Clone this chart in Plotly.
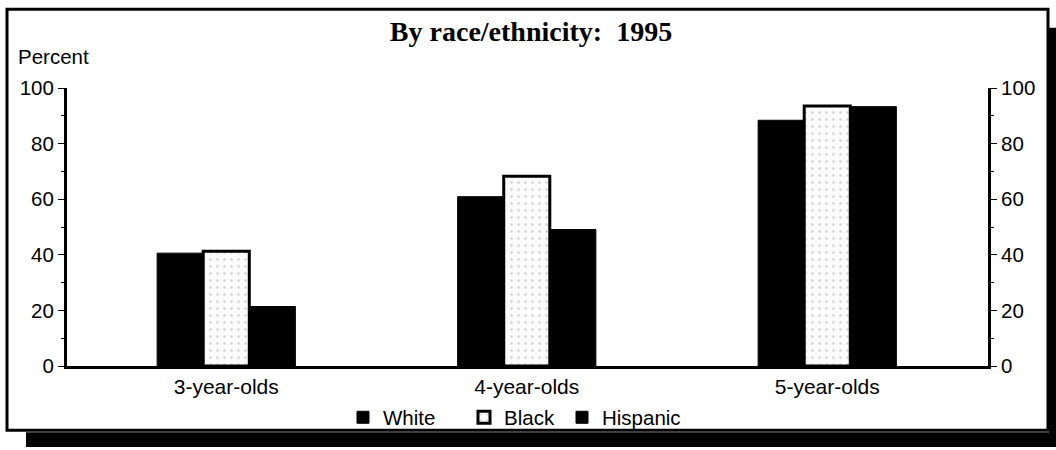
import plotly.graph_objects as go

categories = ["3-year-olds", "4-year-olds", "5-year-olds"]
white = [40.6, 60.9, 88.4]
black = [41.3, 68.3, 93.5]
hispanic = [21.4, 49.1, 93.3]
y_ticks = [0, 20, 40, 60, 80, 100]

W, H = 1056, 450
L, R, T, B = 67, 988, 88, 369  # plot area in pixels


def px(x):
    return (x - L) / (R - L)


def py(y):
    return (B - y) / (B - T)


fig = go.Figure()
fig.add_trace(go.Bar(name="White", x=categories, y=white, legend="legend",
                     marker=dict(color="black", line=dict(color="black", width=1))))
fig.add_trace(go.Bar(name="Black", x=categories, y=black, legend="legend2",
                     marker=dict(color="#fbfbfb", line=dict(color="black", width=3),
                                 pattern=dict(shape=".", fgcolor="#a8a8a8", bgcolor="#fbfbfb",
                                              size=7, solidity=0.1))))
fig.add_trace(go.Bar(name="Hispanic", x=categories, y=hispanic, legend="legend3",
                     marker=dict(color="black", line=dict(color="black", width=1))))
# invisible trace to drive the right axis
fig.add_trace(go.Scatter(x=categories, y=[None] * 3, yaxis="y2", showlegend=False,
                         hoverinfo="skip"))

font = "Arial, Liberation Sans, sans-serif"
axis_common = dict(range=[0, 100], tickvals=y_ticks, ticks="outside", ticklen=6,
                   tickwidth=1, tickcolor="black", showline=True, linecolor="black",
                   linewidth=3, showgrid=False, zeroline=False,
                   tickfont=dict(family=font, size=20.5, color="black"),
                   minor=dict(ticks="outside", ticklen=3, dtick=10, tickcolor="black",
                              tickwidth=1))


def leg(xpix):
    return dict(orientation="h", x=px(xpix), xanchor="left", y=py(421), yanchor="middle",
                font=dict(family=font, size=20.5, color="black"), bgcolor="rgba(0,0,0,0)",
                itemwidth=30)


fig.update_layout(
    width=W, height=H,
    margin=dict(l=L, r=W - R, t=T, b=H - B),
    paper_bgcolor="white", plot_bgcolor="white",
    barmode="group", bargap=0.54, bargroupgap=0,
    xaxis=dict(range=[-0.53, 2.535], showline=True, linecolor="black", linewidth=3,
               ticks="", tickfont=dict(family=font, size=21, color="black"),
               showgrid=False, zeroline=False),
    yaxis=dict(side="left", **axis_common),
    yaxis2=dict(side="right", overlaying="y", **axis_common),
    showlegend=True,
    legend=leg(343), legend2=leg(464), legend3=leg(562),
    title=dict(text="<b>By race/ethnicity:  1995</b>", x=px(531), xref="paper",
               xanchor="center", y=1 - 31 / H, yanchor="middle",
               font=dict(family="Liberation Serif, Times New Roman, serif", size=28,
                         color="black")),
    annotations=[dict(text="Percent", xref="paper", yref="paper", x=px(16), y=py(56),
                      xanchor="left", yanchor="middle", showarrow=False,
                      font=dict(family=font, size=20.5, color="black"))],
    shapes=[
        # drop shadow
        dict(type="rect", xref="paper", yref="paper", x0=px(1049), x1=px(1057),
             y0=py(27), y1=py(451), fillcolor="black", line=dict(width=0), layer="below"),
        dict(type="rect", xref="paper", yref="paper", x0=px(26), x1=px(1057),
             y0=py(436), y1=py(451), fillcolor="black", line=dict(width=0), layer="below"),
        # frame
        dict(type="rect", xref="paper", yref="paper", x0=px(7), x1=px(1048),
             y0=py(8.5), y1=py(434), line=dict(color="black", width=3),
             fillcolor="rgba(0,0,0,0)", layer="below"),
    ],
)

fig.write_html("out.html", config={"displayModeBar": False},
               post_script="document.body.style.margin='0';document.body.style.overflow='hidden';")
